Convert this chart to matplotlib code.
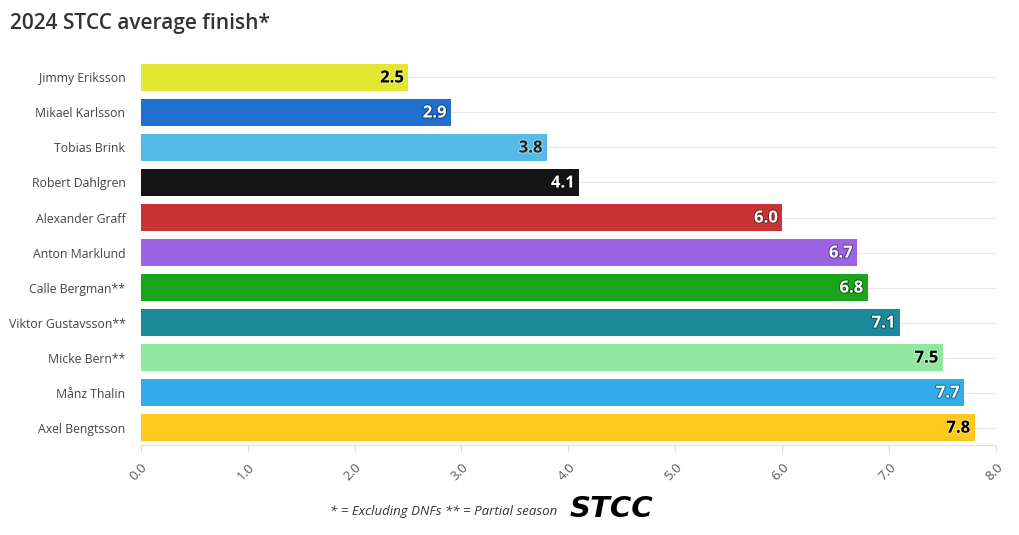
import matplotlib
matplotlib.use('Agg')
import matplotlib.pyplot as plt
import matplotlib.patheffects as pe

drivers = ['Jimmy Eriksson', 'Mikael Karlsson', 'Tobias Brink', 'Robert Dahlgren',
           'Alexander Graff', 'Anton Marklund', 'Calle Bergman**', 'Viktor Gustavsson**',
           'Micke Bern**', 'Månz Thalin', 'Axel Bengtsson']
avg_finish = [2.5, 2.9, 3.8, 4.1, 6.0, 6.7, 6.8, 7.1, 7.5, 7.7, 7.8]
bar_colors = ['#e2e832', '#1f6fcf', '#54bbe6', '#151515', '#c83434', '#9c64e4',
              '#1aa51c', '#1b8a9a', '#90e8a0', '#32adec', '#ffca1c']
label_colors = ['black', 'white', '#222222', 'white', 'white', 'white',
                'white', 'white', 'black', 'white', 'black']
xticks = [0.0, 1.0, 2.0, 3.0, 4.0, 5.0, 6.0, 7.0, 8.0]

plt.rcParams['font.family'] = ['Open Sans', 'DejaVu Sans']

fig = plt.figure(figsize=(10.2, 5.35), dpi=100)
ax = fig.add_axes([0.138, 0.168, 0.8385, 0.72])

y = list(range(len(drivers)))
ax.barh(y, avg_finish, height=0.78, color=bar_colors, zorder=2)

for yi, v, lc in zip(y, avg_finish, label_colors):
    outline = 'black' if lc == 'white' else 'white'
    t = ax.text(v - 0.04, yi, f'{v:.1f}', ha='right', va='center',
                fontsize=12, fontweight='bold', color=lc, zorder=3)
    t.set_path_effects([pe.withStroke(linewidth=1.5, foreground=outline, alpha=0.4)])

ax.set_xlim(0, 8)
ax.set_ylim(len(drivers) - 0.5, -0.5)
ax.set_yticks(y)
ax.set_yticklabels(drivers, fontsize=8.8, color='#444444')
ax.set_xticks(xticks)
ax.set_xticklabels([f'{t:.1f}' for t in xticks], rotation=45, ha='right',
                   rotation_mode='anchor', fontsize=9.5, color='#555555')

for yi in y:
    ax.axhline(yi, color='#e8e8e8', linewidth=0.8, zorder=1)

for s in ['top', 'right', 'left']:
    ax.spines[s].set_visible(False)
ax.spines['bottom'].set_color('#dddddd')
ax.tick_params(axis='y', length=0, pad=11)
ax.tick_params(axis='x', length=5, color='#dddddd', pad=6)

fig.text(0.010, 0.956, '2024 STCC average finish*', fontsize=15,
         fontweight='semibold', color='#333333', va='center')
fig.text(0.546, 0.043, '* = Excluding DNFs ** = Partial season', fontsize=9.5,
         style='italic', color='#333333', ha='right', va='center')
fig.text(0.558, 0.049, 'STCC', fontsize=21, fontweight='bold', style='oblique',
         family='DejaVu Sans', color='black', ha='left', va='center')

fig.savefig('out.png', dpi=100, facecolor='white')
